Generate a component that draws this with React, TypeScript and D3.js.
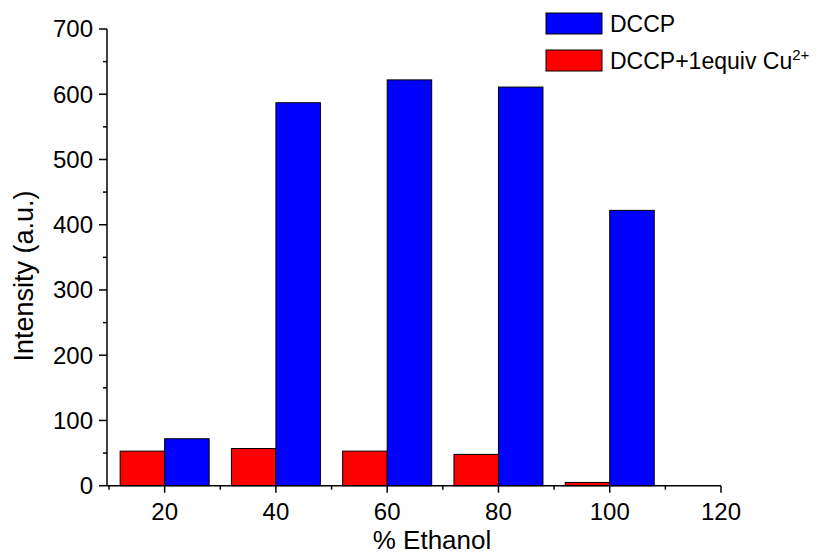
import React, { useEffect, useRef } from 'react';
import * as d3 from 'd3';

const ethanol = [20, 40, 60, 80, 100];
const dccp = [72, 587, 622, 611, 422];
const dccpCu = [53, 57, 53, 48, 5];
const yTicks = [0, 100, 200, 300, 400, 500, 600, 700];
const yMinor = [50, 150, 250, 350, 450, 550, 650];
const xTicks = [20, 40, 60, 80, 100, 120];
const xMinor = [10, 30, 50, 70, 90, 110];
const seriesNames = ['DCCP', 'DCCP+1equiv Cu'];

const W = 830;
const H = 556;
const FONT = '"Liberation Sans", Arial, sans-serif';

const App = () => {
  const ref = useRef<SVGSVGElement>(null);

  useEffect(() => {
    const svg = d3.select(ref.current);
    svg.selectAll('*').remove();

    const x = d3.scaleLinear().domain([9.64, 120]).range([107, 721]);
    const y = d3.scaleLinear().domain([0, 700]).range([485.7, 29]);
    const barW = 8; // in % ethanol units

    const g = svg.append('g');

    // red bars (left of tick), blue bars (right of tick)
    g.selectAll('rect.cu')
      .data(ethanol)
      .join('rect')
      .attr('class', 'cu')
      .attr('x', d => x(d - barW))
      .attr('width', d => x(d) - x(d - barW))
      .attr('y', (d, i) => y(dccpCu[i]))
      .attr('height', (d, i) => y(0) - y(dccpCu[i]))
      .attr('fill', '#ff0000')
      .attr('stroke', '#000')
      .attr('stroke-width', 1);

    g.selectAll('rect.dccp')
      .data(ethanol)
      .join('rect')
      .attr('class', 'dccp')
      .attr('x', d => x(d))
      .attr('width', d => x(d + barW) - x(d))
      .attr('y', (d, i) => y(dccp[i]))
      .attr('height', (d, i) => y(0) - y(dccp[i]))
      .attr('fill', '#0000ff')
      .attr('stroke', '#000')
      .attr('stroke-width', 1);

    // y axis
    const yAxis = svg.append('g').attr('transform', `translate(${x.range()[0]},0)`);
    yAxis.append('line')
      .attr('y1', y(0)).attr('y2', y(700))
      .attr('stroke', '#000').attr('stroke-width', 1.5);
    yAxis.selectAll('line.maj').data(yTicks).join('line')
      .attr('class', 'maj')
      .attr('x1', -8).attr('x2', 0)
      .attr('y1', d => y(d)).attr('y2', d => y(d))
      .attr('stroke', '#000').attr('stroke-width', 1.5);
    yAxis.selectAll('line.min').data(yMinor).join('line')
      .attr('class', 'min')
      .attr('x1', -4).attr('x2', 0)
      .attr('y1', d => y(d)).attr('y2', d => y(d))
      .attr('stroke', '#000').attr('stroke-width', 1.5);
    yAxis.selectAll('text').data(yTicks).join('text')
      .attr('x', -14)
      .attr('y', d => y(d))
      .attr('dy', '0.35em')
      .attr('text-anchor', 'end')
      .attr('font-family', FONT)
      .attr('font-size', 24)
      .text(d => d);

    // x axis
    const xAxis = svg.append('g').attr('transform', `translate(0,${y(0)})`);
    xAxis.append('line')
      .attr('x1', x.range()[0]).attr('x2', x(120))
      .attr('stroke', '#000').attr('stroke-width', 1.5);
    xAxis.selectAll('line.maj').data(xTicks).join('line')
      .attr('class', 'maj')
      .attr('y1', 0).attr('y2', 7)
      .attr('x1', d => x(d)).attr('x2', d => x(d))
      .attr('stroke', '#000').attr('stroke-width', 1.5);
    xAxis.selectAll('line.min').data(xMinor).join('line')
      .attr('class', 'min')
      .attr('y1', 0).attr('y2', 4)
      .attr('x1', d => x(d)).attr('x2', d => x(d))
      .attr('stroke', '#000').attr('stroke-width', 1.5);
    xAxis.selectAll('text').data(xTicks).join('text')
      .attr('x', d => x(d))
      .attr('y', 34)
      .attr('text-anchor', 'middle')
      .attr('font-family', FONT)
      .attr('font-size', 24)
      .text(d => d);

    // axis titles
    svg.append('text')
      .attr('x', 432).attr('y', 549)
      .attr('text-anchor', 'middle')
      .attr('font-family', FONT)
      .attr('font-size', 26)
      .text('% Ethanol');

    svg.append('text')
      .attr('transform', `translate(33,276) rotate(-90)`)
      .attr('text-anchor', 'middle')
      .attr('font-family', FONT)
      .attr('font-size', 27)
      .text('Intensity (a.u.)');

    // legend
    const colors = ['#0000ff', '#ff0000'];
    const leg = svg.append('g').attr('transform', 'translate(546,13)');
    seriesNames.forEach((name, i) => {
      const row = leg.append('g').attr('transform', `translate(0,${i * 37})`);
      row.append('rect')
        .attr('width', 56).attr('height', 21)
        .attr('fill', colors[i])
        .attr('stroke', '#000').attr('stroke-width', 1);
      const t = row.append('text')
        .attr('x', 64).attr('y', 19)
        .attr('font-family', FONT)
        .attr('font-size', 23)
        .text(name);
      if (i === 1) {
        t.append('tspan')
          .attr('dy', -9)
          .attr('font-size', 15)
          .text('2+');
      }
    });
  }, []);

  return (
    <svg
      ref={ref}
      width={W}
      height={H}
      style={{ position: 'absolute', left: 0, top: 0, background: '#fff' }}
    ></svg>
  );
};

export default App;
